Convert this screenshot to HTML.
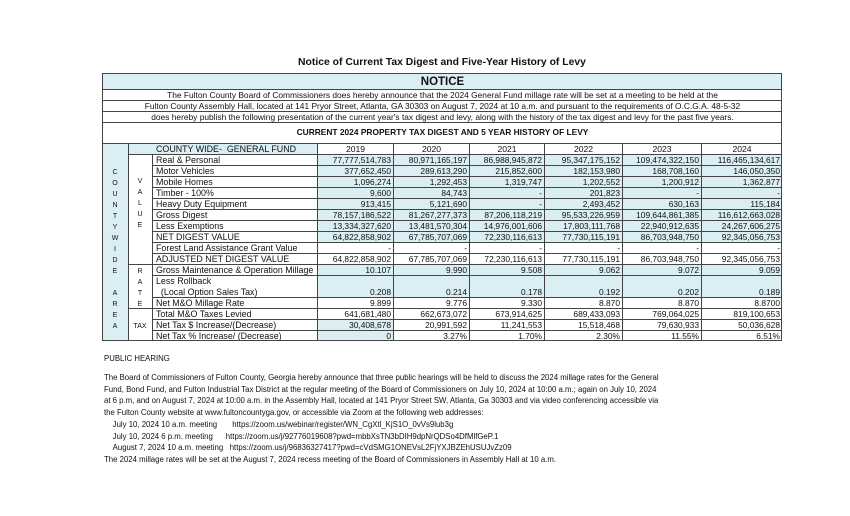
<!DOCTYPE html>
<html><head><meta charset="utf-8">
<style>
html,body{margin:0;padding:0;background:#fff;}
body{width:850px;height:516px;position:relative;overflow:hidden;font-family:"Liberation Sans",Arial,sans-serif;color:#111;}
.a{position:absolute;white-space:nowrap;box-sizing:border-box;}
.c{border-left:1px solid #444;border-top:1px solid #444;}
.blue{background:#daeef3;}
.num{text-align:right;padding-right:2px;font-size:8.4px;line-height:11px;}
.lbl{font-size:8.9px;line-height:11px;padding-left:3px;}
.ctr{text-align:center;}
.foot{font-size:7.8px;left:104px;line-height:11.7px;}
</style></head>
<body>
<div class="a ctr" style="left:102px;width:680px;top:57px;font-weight:bold;font-size:10.4px;">Notice of Current Tax Digest and Five-Year History of Levy</div>

<div class="a" id="tbl" style="left:0;top:0;width:850px;height:516px;"></div>

<div class="a foot" style="top:353px;">PUBLIC HEARING</div>
<div class="a foot" style="top:372px;">
The Board of Commissioners of Fulton County, Georgia hereby announce that three public hearings will be held to discuss the 2024 millage rates for the General<br>
Fund, Bond Fund, and Fulton Industrial Tax District at the regular meeting of the Board of Commissioners on July 10, 2024 at 10:00 a.m.; again on July 10, 2024<br>
at 6 p.m, and on August 7, 2024 at 10:00 a.m. in the Assembly Hall, located at 141 Pryor Street SW, Atlanta, Ga 30303 and via video conferencing accessible via<br>
the Fulton County website at www.fultoncountyga.gov, or accessible via Zoom at the following web addresses:<br>
&nbsp;&nbsp;&nbsp;&nbsp;July 10, 2024 10 a.m. meeting &nbsp;&nbsp;&nbsp;&nbsp;&nbsp;&nbsp;https://zoom.us/webinar/register/WN_CgXtl_KjS1O_0vVs9lub3g<br>
&nbsp;&nbsp;&nbsp;&nbsp;July 10, 2024 6 p.m. meeting &nbsp;&nbsp;&nbsp;&nbsp;&nbsp;https://zoom.us/j/92776019608?pwd=mbbXsTN3bDIH9dpNrQDSo4DfMlfGeP.1<br>
&nbsp;&nbsp;&nbsp;&nbsp;August 7, 2024 10 a.m. meeting &nbsp;&nbsp;https://zoom.us/j/96836327417?pwd=cVdSMG1ONEVsL2FjYXJBZEhUSUJvZz09<br>
The 2024 millage rates will be set at the August 7, 2024 recess meeting of the Board of Commissioners in Assembly Hall at 10 a.m.
</div>

<script>
const years = ['2019','2020','2021','2022','2023','2024'];
const rowLabels = ['Real & Personal','Motor Vehicles','Mobile Homes','Timber - 100%','Heavy Duty Equipment','Gross Digest','Less Exemptions','NET DIGEST VALUE','Forest Land Assistance Grant Value','ADJUSTED NET DIGEST VALUE','Gross Maintenance & Operation Millage','Less Rollback','Net M&O Millage Rate','Total M&O Taxes Levied','Net Tax $ Increase/(Decrease)','Net Tax % Increase/ (Decrease)'];
const values = [
['77,777,514,783','80,971,165,197','86,988,945,872','95,347,175,152','109,474,322,150','116,465,134,617'],
['377,652,450','289,613,290','215,852,600','182,153,980','168,708,160','146,050,350'],
['1,096,274','1,292,453','1,319,747','1,202,552','1,200,912','1,362,877'],
['9,600','84,743','-','201,823','-','-'],
['913,415','5,121,690','-','2,493,452','630,163','115,184'],
['78,157,186,522','81,267,277,373','87,206,118,219','95,533,226,959','109,644,861,385','116,612,663,028'],
['13,334,327,620','13,481,570,304','14,976,001,606','17,803,111,768','22,940,912,635','24,267,606,275'],
['64,822,858,902','67,785,707,069','72,230,116,613','77,730,115,191','86,703,948,750','92,345,056,753'],
['-','-','-','-','-','-'],
['64,822,858,902','67,785,707,069','72,230,116,613','77,730,115,191','86,703,948,750','92,345,056,753'],
['10.107','9.990','9.508','9.062','9.072','9.059'],
['0.208','0.214','0.178','0.192','0.202','0.189'],
['9.899','9.776','9.330','8.870','8.870','8.8700'],
['641,681,480','662,673,072','673,914,625','689,433,093','769,064,025','819,100,653'],
['30,408,678','20,991,592','11,241,553','15,518,468','79,630,933','50,036,628'],
['0','3.27%','1.70%','2.30%','11.55%','6.51%']
];
const shaded = [1,1,1,1,1,1,1,1,0,0,1,1,0,0,0,0];
const rowUnits = [1,1,1,1,1,1,1,1,1,1,1,2,1,1,1,1];
const colX = [102,128,152,317,393,469,544,622,701,782];
const T = document.getElementById('tbl');
function box(x,y,w,h,cls,txt,name,style){
  const d=document.createElement('div');
  d.className='a '+cls;
  d.style.left=x+'px';d.style.top=y+'px';d.style.width=w+'px';d.style.height=h+'px';
  if(style) d.style.cssText+=style;
  if(txt!==null) d.innerHTML=txt;
  
  
  T.appendChild(d);return d;
}
const L=102,R=782,W=R-L;
box(L,73,W,16,'c blue ctr','NOTICE','notice-banner','font-weight:bold;font-size:11.5px;line-height:16px;');
const intro=['The Fulton County Board of Commissioners does hereby announce that the 2024 General Fund millage rate will be set at a meeting to be held at the',
'Fulton County Assembly Hall, located at 141 Pryor Street, Atlanta, GA 30303 on August 7, 2024 at 10 a.m. and pursuant to the requirements of O.C.G.A. 48-5-32',
'does hereby publish the following presentation of the current year\'s tax digest and levy, along with the history of the tax digest and levy for the past five years.'];
intro.forEach((t,i)=>box(L,89+i*11,W,11,'c ctr',t,'intro-line','font-size:8.4px;line-height:11px;'));
box(L,122,W,21,'c ctr','CURRENT 2024 PROPERTY TAX DIGEST AND 5 YEAR HISTORY OF LEVY','digest-subtitle','font-weight:bold;font-size:8.4px;line-height:19px;');
box(colX[0],143,colX[1]-colX[0],198,'c blue',null,'county-wide-area-column');
box(colX[1],143,colX[3]-colX[1],11,'c blue','COUNTY WIDE-&nbsp; GENERAL FUND','county-wide-header','font-size:8.9px;line-height:11px;padding-left:27px;');
years.forEach((y,i)=>box(colX[3+i],143,colX[4+i]-colX[3+i],11,'c ctr',y,'year-header-'+y,'font-size:8.6px;line-height:11px;'));
box(colX[1],154,colX[2]-colX[1],110,'c',null,'value-group');
box(colX[1],264,colX[2]-colX[1],44,'c',null,'rate-group');
box(colX[1],308,colX[2]-colX[1],33,'c',null,'tax-group');
const col1Letters=['C','O','U','N','T','Y','W','I','D','E','','A','R','E','A'];
col1Letters.forEach((ch,i)=>{ if(ch) box(colX[0],167+i*11,26,11,'ctr',ch,'area-letter','font-size:7px;line-height:11px;');});
const col2Letters=[['V',176],['A',187],['L',198],['U',209],['E',220],['R',266],['A',277],['T',288],['E',299],['TAX',321]];
col2Letters.forEach(p=>box(colX[1],p[1],24,11,'ctr',p[0],'group-letter','font-size:7px;line-height:11px;'));
let y=154;
rowLabels.forEach((lab,r)=>{
  const h=rowUnits[r]*11;
  const lt = r===11 ? 'Less Rollback<br>&nbsp;&nbsp;(Local Option Sales Tax)' : lab.replace(/&/g,'&amp;');
  box(colX[2],y,colX[3]-colX[2],h,'c lbl',lt,'row-label');
  values[r].forEach((v,i)=>{
    const d=box(colX[3+i],y,colX[4+i]-colX[3+i],h,'c num'+(shaded[r]||(r>=14&&i===0)?' blue':''),v,'value-cell');
    if(h>11) d.style.paddingTop=(h-11)+'px';
  });
  y+=h;
});
box(L,73,W,341-73,'',null,'table-outline','border:1px solid #444;');
</script>
</body></html>
